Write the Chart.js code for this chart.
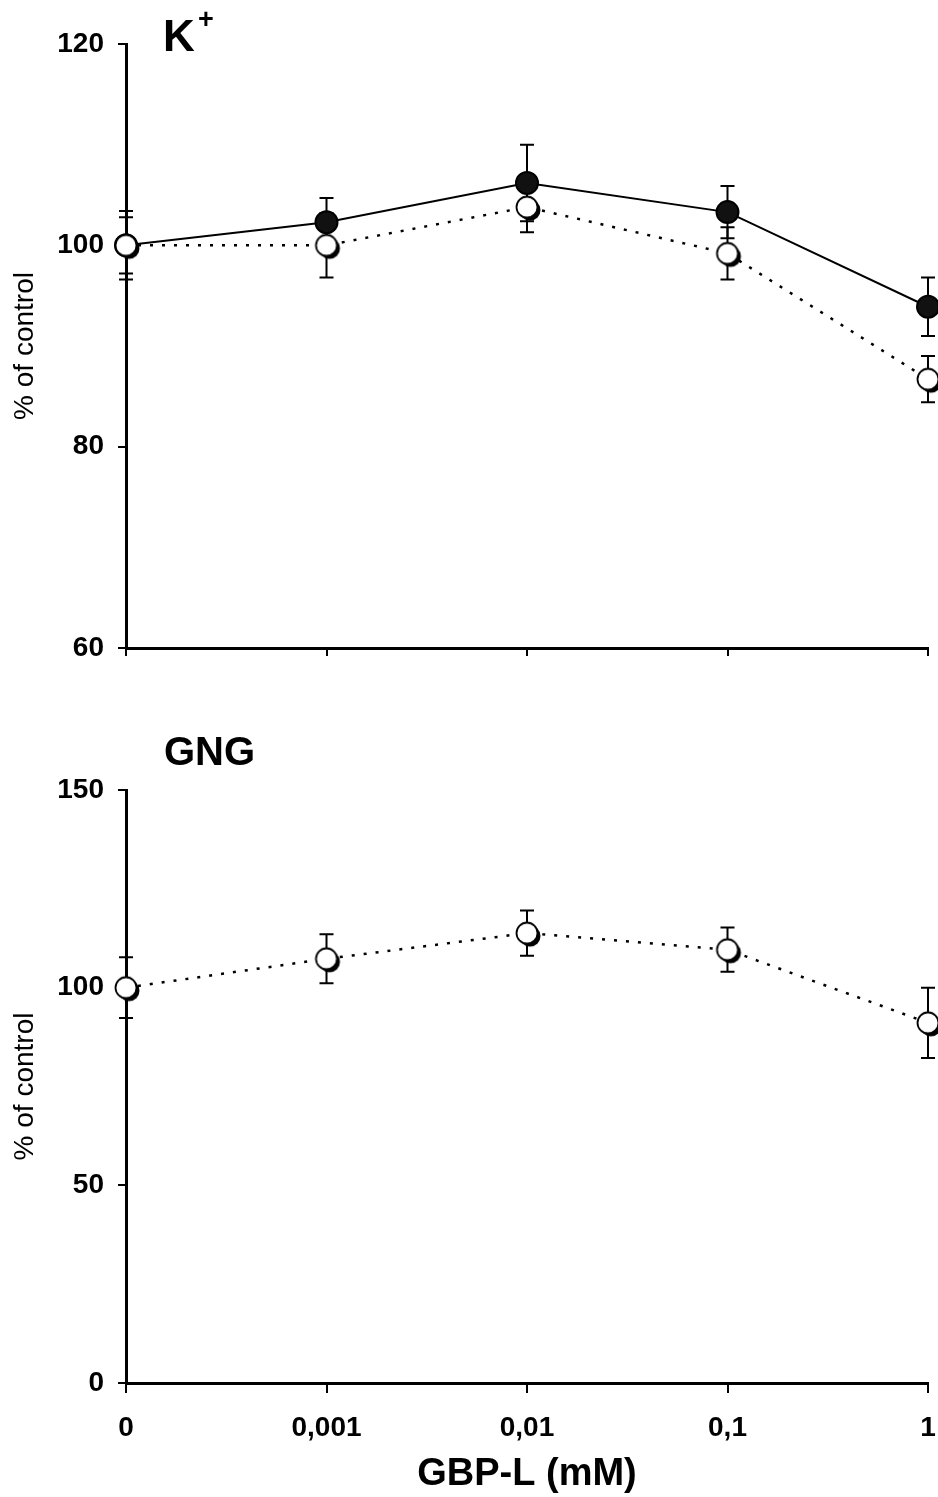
<!DOCTYPE html>
<html>
<head>
<meta charset="utf-8">
<script src="https://cdn.jsdelivr.net/npm/chart.js@4/dist/chart.umd.min.js"></script>
<style>
  html, body { margin: 0; padding: 0; background: #fff; }
  #wrap { position: relative; width: 938px; height: 1497px; overflow: hidden; }
  canvas { position: absolute; left: 0; }
  .ptitle { position: absolute; font-family: 'Liberation Sans', Arial, sans-serif; font-weight: bold; color: #000; white-space: nowrap; }
</style>
</head>
<body>
<div id="wrap">
  <canvas id="top" width="938" height="700" style="top:0"></canvas>
  <canvas id="bottom" width="938" height="797" style="top:700px"></canvas>
  <div class="ptitle" style="left:163px; top:14px; font-size:44px; line-height:44px;">K</div>
  <div class="ptitle" style="left:198px; top:6px; font-size:27px; line-height:27px;">+</div>
  <div class="ptitle" style="left:164px; top:731px; font-size:40px; line-height:40px;">GNG</div>
</div>
<script>
// ---- data ----
const categories = ['0', '0,001', '0,01', '0,1', '1'];
const kFilled    = [100, 102.3, 106.2, 103.3, 93.9];
const kFilledErr = [3.4, 2.4, 3.8, 2.6, 2.9];
const kOpen      = [100, 100.0, 103.8, 99.2, 86.7];
const kOpenErr   = [2.8, 3.2, 2.5, 2.6, 2.3];
const gngOpen    = [100, 107.3, 113.8, 109.6, 91.1];
const gngOpenErr = [7.7, 6.2, 5.7, 5.6, 8.9];
const kTicks     = [60, 80, 100, 120];
const gngTicks   = [0, 50, 100, 150];

const FONT = "'Liberation Sans', Arial, sans-serif";

// open-circle marker with dark crescent at lower right
function openMarker() {
  const c = document.createElement('canvas');
  c.width = 34; c.height = 34;
  const g = c.getContext('2d');
  g.fillStyle = '#000';
  g.beginPath(); g.arc(20, 20, 10.5, 0, Math.PI * 2); g.fill();
  g.fillStyle = '#fff';
  g.strokeStyle = '#000';
  g.lineWidth = 1.8;
  g.beginPath(); g.arc(17, 17, 10.5, 0, Math.PI * 2); g.fill(); g.stroke();
  return c;
}
const openImg = openMarker();

const errorBars = {
  id: 'errorBars',
  beforeDatasetsDraw(chart) {
    const ctx = chart.ctx;
    const ys = chart.scales.y;
    chart.data.datasets.forEach((ds, i) => {
      if (!ds.errors) return;
      const meta = chart.getDatasetMeta(i);
      ctx.save();
      ctx.strokeStyle = '#000';
      ctx.lineWidth = 2;
      meta.data.forEach((pt, j) => {
        const v = ds.data[j], e = ds.errors[j];
        const t = ys.getPixelForValue(v + e), b = ys.getPixelForValue(v - e);
        ctx.beginPath();
        ctx.moveTo(pt.x, t); ctx.lineTo(pt.x, b);
        ctx.moveTo(pt.x - 7, t); ctx.lineTo(pt.x + 7, t);
        ctx.moveTo(pt.x - 7, b); ctx.lineTo(pt.x + 7, b);
        ctx.stroke();
      });
      ctx.restore();
    });
  }
};

function yAxis(min, max, step, tickVals) {
  return {
    min: min, max: max,
    afterFit: s => { s.width = 126; },
    afterBuildTicks: s => { s.ticks = tickVals.map(v => ({ value: v })); },
    border: { color: '#000', width: 3 },
    grid: { drawOnChartArea: false, drawTicks: true, tickLength: 8, tickColor: '#000', lineWidth: 2 },
    ticks: { stepSize: step, color: '#000', padding: 14, font: { family: FONT, size: 28, weight: 'bold' } },
    title: { display: true, text: '% of control', color: '#000', padding: { top: 8, bottom: 0 },
             font: { family: FONT, size: 28, weight: 'normal' } }
  };
}

function openDataset(values, errs) {
  return {
    data: values, errors: errs,
    borderColor: '#000', borderWidth: 2.5, borderDash: [3, 9],
    pointStyle: openImg, pointRadius: 11, clip: false, fill: false, tension: 0
  };
}

Chart.defaults.font.family = FONT;

new Chart(document.getElementById('top'), {
  type: 'line',
  data: {
    labels: categories,
    datasets: [
      openDataset(kOpen, kOpenErr),
      {
        data: kFilled, errors: kFilledErr,
        borderColor: '#000', borderWidth: 2,
        pointStyle: 'circle', pointRadius: 11, pointBackgroundColor: '#111', pointBorderColor: '#000',
        clip: false, fill: false, tension: 0
      }
    ]
  },
  options: {
    responsive: false, animation: false,
    layout: { autoPadding: false, padding: { top: 44, right: 10, left: 0, bottom: 0 } },
    plugins: { legend: { display: false }, tooltip: { enabled: false } },
    scales: {
      x: {
        type: 'category', offset: false,
        afterFit: s => { s.height = 52; s.paddingLeft = 0; s.paddingRight = 0; },
        border: { color: '#000', width: 3 },
        grid: { drawOnChartArea: false, drawTicks: true, tickLength: 8, tickColor: '#000', lineWidth: 2, offset: false },
        ticks: { display: false }
      },
      y: yAxis(60, 120, 20, kTicks)
    }
  },
  plugins: [errorBars]
});

new Chart(document.getElementById('bottom'), {
  type: 'line',
  data: {
    labels: categories,
    datasets: [ openDataset(gngOpen, gngOpenErr) ]
  },
  options: {
    responsive: false, animation: false,
    layout: { autoPadding: false, padding: { top: 90, right: 10, left: 0, bottom: 0 } },
    plugins: { legend: { display: false }, tooltip: { enabled: false } },
    scales: {
      x: {
        type: 'category', offset: false,
        afterFit: s => { s.height = 114; s.paddingLeft = 0; s.paddingRight = 0; },
        border: { color: '#000', width: 3 },
        grid: { drawOnChartArea: false, drawTicks: true, tickLength: 10, tickColor: '#000', lineWidth: 2, offset: false },
        ticks: { color: '#000', padding: 18, maxRotation: 0, autoSkip: false, font: { family: FONT, size: 28, weight: 'bold' } },
        title: { display: true, text: 'GBP-L (mM)', color: '#000', padding: { top: 0, bottom: 0 },
                 font: { family: FONT, size: 38, weight: 'bold' } }
      },
      y: yAxis(0, 150, 50, gngTicks)
    }
  },
  plugins: [errorBars]
});
</script>
</body>
</html>
